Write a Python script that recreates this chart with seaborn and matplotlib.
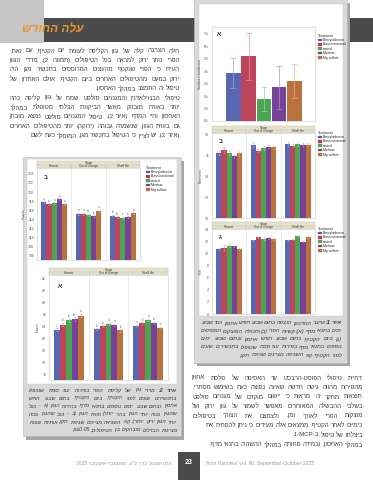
import re
import pandas as pd
import seaborn as sns
import matplotlib.pyplot as plt
from matplotlib.patches import Rectangle, Patch
from matplotlib.colors import to_rgb

sns.set_style('white')
plt.rcParams['font.family'] = ['Liberation Sans', 'DejaVu Sans']

W, H = 373, 480

# ---- data ----
treatments = ['Benzyladenine', 'Brassinosteroid', 'control', 'Manitrac', 'Mg sulfate']
stages = ['Harvest', 'Out of storage', 'Shelf life']
colors = ['#4A5DC0', '#D2304E', '#3DB447', '#7B33A6', '#CF6F28']

# figure 1 (right box)
incidence = [3.85, 5.2, 1.75, 2.7, 3.2]
incidence_err = [1.2, 1.9, 0.95, 1.7, 1.35]

firmness = [[16.2, 16.5, 16.2, 15.9, 16.15],
            [17.0, 16.4, 16.7, 16.8, 16.75],
            [17.05, 16.9, 17.05, 16.95, 17.0]]
firmness_err = [[0.15, 0.3, 0.15, 0.15, 0.2],
                [0.2, 0.15, 0.2, 0.15, 0.15],
                [0.15, 0.15, 0.15, 0.15, 0.15]]

tss = [[10.8, 10.9, 11.3, 11.2, 10.8],
       [12.2, 12.7, 12.5, 12.6, 12.5],
       [12.2, 12.3, 12.9, 12.0, 12.8]]
tss_err = [[0.2, 0.5, 0.25, 0.15, 0.15],
           [0.15, 0.15, 0.2, 0.15, 0.15],
           [0.1, 0.1, 0.15, 0.1, 0.15]]

# figure 2 (left box)
hue_angle = [[117.8, 117.3, 117.55, 118.4, 117.3],
             [115.2, 115.2, 115.0, 114.7, 115.85],
             [114.8, 114.45, 114.3, 114.5, 115.4]]
hue_angle_err = [[0.2, 0.2, 0.2, 0.25, 0.2],
                 [0.2, 0.2, 0.2, 0.2, 0.25],
                 [0.2, 0.2, 0.2, 0.2, 0.2]]
hue_angle_letters = [['a', 'a', 'a', 'a', 'a'],
                     ['a', 'a', 'ab', 'b', 'a'],
                     ['b', 'bc', 'c', 'bc', 'a']]

hue_l = [[83.45, 84.3, 85.0, 85.2, 85.8],
         [83.5, 84.0, 84.4, 84.2, 83.3],
         [84.1, 84.5, 85.05, 84.6, 83.7]]
hue_l_err = [[0.2, 0.3, 0.3, 0.3, 0.3],
             [0.2, 0.2, 0.2, 0.2, 0.2],
             [0.2, 0.2, 0.2, 0.2, 0.2]]
hue_l_letters = [['c', 'bc', 'b', 'ab', 'a'],
                 ['b', 'a', 'a', 'a', 'b'],
                 ['c', 'b', 'a', 'ab', 'c']]

# ---- page text ----
para_top = [
    "חלה הצרבה קלה של גוון הקליפה לעומת יום הקטיף. עם זאת,",
    "הפרי נותר ירוק למראה בכל הטיפולים (תמונה 2). מדדי הגוון",
    "העידו כי הפרי שנקטף מהעצים המרוססים בתכשיר מגן היה",
    "ירוק במעט מהטיפולים האחרים ביום הקטיף, אולם האתרון של",
    "טיפול זה התמצב במהלך האחסון.",
    "טיפולי הבנזילאדנין והמגנזיום סולפט שמרו על גוון קליפה כהה",
    "יותר באורח מובהק מאשר הביקורת הבלתי מטופלת במהלך",
    "האחסון וחיי המדף (איור 2). טיפול המגנזיום סולפט נמצא מובחן",
    "גם בזווית הגוון, שנשמרה גבוהה (ירוקה) יותר מהטיפולים האחרים",
    "(איור 2). יש לציין כי הטיפול בתכשיר מגן, המוסלך כעת לשם",
]
para_bottom = [
    "דחיית טיפולי הפוסט-הרבסט עד האסיפה של פלסת אחוזן",
    "מהפירות מהווה גישה חדשה שאינה נפוצה כעת בשימוש מסחרי.",
    "תוצאות מחקר זה מראות כי יישום מוקדם של מגנזיום סולפט",
    "בשלבי ההבשלה המאוחרים מאפשר לשמור על גוון ירוק ועל",
    "מוצקות הפרי לאורך זמן, ולצמצם את הצורך בטיפולים",
    "כימיים לאחר הקטיף. ממצאים אלה מעידים כי ניתן להפחית את",
    "ביצלתו של טיפול ב-1-MCP.",
    "במהלך האחסון, ובמידה פחותה במהלך ההשהיה בתנאי מדף.",
]
caption_right = [
    "איור 1: שיעור המדבקן הנצפה בתום שבוע חודש אחסון ועוד שבוע",
    "ימים בתנאי מדף (א); קשיות הפרי (ב) ותכולת המוצקים המסיסים",
    "(ג) ביום הקטיף, בתום שבוע חודש אחסון ובתום שבוע ימים",
    "נוספים בתנאי מדף בפירות עצי סמת שטופלו בתכשירים שונים",
    "לפני הקטיף. קווי השגיאה מציינים שגיאת תקן.",
]
caption_left = [
    "איור 2: מדדי גוון של קליפת הפרי בפירות עצי סמת שטופלו",
    "בתכשירים שונים לפני הקטיף, ביום הקטיף, בתום שבוע חודש",
    "אחסון ובתום שבוע ימים נוספים בתנאי מדף. בהירות הגוון (א - ככל",
    "שהגוון גבוה יותר הגוון בהיר יותר) וזווית הגוון (ב - ככל שהגוון גבוה",
    "יותר הגוון ירוק יותר). קווי השגיאה מציינים שגיאת תקן. אותיות שונות",
    "מציינות הבדלים מובהקים בין הטיפולים, p≤0.05.",
]
logo = "עלה החודש"
footer_he = "'עלון הנוטע' כרך ע\"ט, ספטמבר-אוקטובר 2025"
footer_en = "'Alon Hanotea' vol. 80, September-October 2025"
page_no = "23"

LTR = re.compile(r'[A-Za-z0-9][A-Za-z0-9.\-≤]*[A-Za-z0-9]|[A-Za-z0-9]')


def heb(s):
    # matplotlib has no bidi: put the Hebrew in visual order by hand
    r = s[::-1]
    r = LTR.sub(lambda m: m.group(0)[::-1], r)
    return r.translate(str.maketrans('()', ')('))


def light(c, k=0.45):
    r, g, b = to_rgb(c)
    return (r + (1 - r) * k, g + (1 - g) * k, b + (1 - b) * k)


fig = plt.figure(figsize=(W / 100, H / 100), dpi=100)
bg = fig.add_axes([0, 0, 1, 1])
bg.set_xlim(0, W)
bg.set_ylim(H, 0)
bg.axis('off')
rend = fig.canvas.get_renderer()


def box(x, y, w, h, fc, ec='none', lw=0):
    bg.add_patch(Rectangle((x, y), w, h, facecolor=fc, edgecolor=ec, linewidth=lw))


def para(lines, x0, x1, y0, dy, size, ends=(), bold_first=0, **kw):
    # justified right-to-left lines, word by word
    for i, line in enumerate(lines):
        words = line.split()
        arts = []
        for j, w in enumerate(words):
            wt = 'bold' if (i == 0 and j < bold_first) else 'normal'
            arts.append(bg.text(0, y0 + i * dy, heb(w), fontsize=size, ha='right',
                                va='center', fontweight=wt, **kw))
        widths = [a.get_window_extent(rend).width for a in arts]
        space = size * 0.35
        gap = space
        if i not in ends and i != len(lines) - 1 and len(words) > 1:
            gap = max((x1 - x0 - sum(widths)) / (len(words) - 1), space * 0.6)
        x = x1
        for a, wd in zip(arts, widths):
            a.set_x(x)
            x -= wd + gap


def px_axes(x0, y0, x1, y1):
    a = fig.add_axes([x0 / W, 1 - y1 / H, (x1 - x0) / W, (y1 - y0) / H])
    a.set_zorder(2)
    return a


def style(ax, ylim, yticks, ylabel, fmt='{:g}'):
    ax.set_ylim(*ylim)
    ax.set_yticks(yticks)
    ax.set_yticklabels([fmt.format(v) for v in yticks])
    ax.set_xticks([])
    ax.set_xlabel('')
    ax.set_ylabel(ylabel, fontsize=2.6, labelpad=1.5, color='#444444')
    ax.tick_params(axis='y', labelsize=2.5, length=1.2, width=0.3, pad=0.8,
                   colors='#555555')
    for sp in ax.spines.values():
        sp.set_color('#C8C8C8')
        sp.set_linewidth(0.4)


def legend(ax, x, y):
    handles = [Patch(facecolor=c, edgecolor='#666666', linewidth=0.2) for c in colors]
    lg = ax.legend(handles, treatments, title='Treatment', loc='upper left',
                   bbox_to_anchor=(x / W, 1 - y / H), bbox_transform=fig.transFigure,
                   fontsize=2.4, title_fontsize=2.5, frameon=False, handlelength=1.3,
                   handleheight=0.8, labelspacing=0.12, borderpad=0, handletextpad=0.3)
    lg._legend_box.align = 'left'


def header(x0, y0, x1, y1):
    hx = px_axes(x0, y0, x1, y1)
    hx.set_facecolor('#E6E3CD')
    hx.set_xlim(-0.5, 2.5)
    hx.set_ylim(0, 2)
    hx.axhline(1, color='#B9B7A2', lw=0.3)
    for xv in (0.5, 1.5):
        hx.plot([xv, xv], [0, 1], color='#B9B7A2', lw=0.3)
    hx.text(1, 1.5, 'Stage', ha='center', va='center', fontsize=2.3, color='#333333')
    for i, s in enumerate(stages):
        hx.text(i, 0.5, s, ha='center', va='center', fontsize=2.2, color='#333333')
    hx.set_xticks([])
    hx.set_yticks([])
    for sp in hx.spines.values():
        sp.set_color('#B9B7A2')
        sp.set_linewidth(0.3)


def long_df(values, errs):
    rows = []
    for s, vals, es in zip(stages, values, errs):
        for t, v, e in zip(treatments, vals, es):
            rows.append((s, t, v, e))
    return pd.DataFrame(rows, columns=['stage', 'treatment', 'value', 'err'])


def grouped(box_px, values, errs, ylim, yticks, ylabel, tag, letters=None, leg=None):
    x0, y0, x1, y1 = box_px
    header(x0, y0 - 7, x1, y0)
    ax = px_axes(x0, y0, x1, y1)
    df = long_df(values, errs)
    sns.barplot(data=df, x='stage', y='value', hue='treatment', hue_order=treatments,
                palette=colors, errorbar=None, width=0.75, linewidth=0,
                legend=False, ax=ax)
    for cont, t, c in zip(ax.containers, treatments, colors):
        sub = df[df.treatment == t]
        xs = [p.get_x() + p.get_width() / 2 for p in cont.patches]
        ax.errorbar(xs, sub['value'], yerr=sub['err'], fmt='none', ecolor=light(c),
                    elinewidth=0.4, capsize=0.8, capthick=0.4)
        if letters is not None:
            ti = treatments.index(t)
            span = ylim[1] - ylim[0]
            for k, (xv, v, e) in enumerate(zip(xs, sub['value'], sub['err'])):
                ax.text(xv, v + e + span * 0.005, letters[k][ti], ha='center',
                        va='bottom', fontsize=2.0, color='#555555')
    ax.set_xlim(-0.5, 2.5)
    for xv in (0.5, 1.5):
        ax.axvline(xv, color='#DADADA', lw=0.4)
    style(ax, ylim, yticks, ylabel)
    ax.text(0.07, 0.88, tag, transform=ax.transAxes, fontsize=4.5,
            fontweight='bold', color='#333333')
    if leg is not None:
        legend(ax, *leg)
    return ax


# ---- page decoration ----
box(0, 0, 44, 43, '#C6C6C6')
box(44, 18, W - 44, 24, '#4B4B4B')
bg.text(22, 29, heb(logo), fontsize=8.5, color='#E8962E', fontstyle='italic',
        fontweight='bold', ha='left', va='center')

# right figure box
box(197, 3, 153, 363, '#A5A5A5')
box(194, -2, 153, 365, '#D9D9D9', '#B8B8B8', 0.4)
box(199, 4, 144, 312, 'white', '#C9C9C9', 0.3)

# left figure box
box(26, 161, 158, 279, '#A5A5A5')
box(23, 157, 158, 279, '#D9D9D9', '#B8B8B8', 0.4)
box(27, 159, 150, 225, 'white', '#C9C9C9', 0.3)

# footer
box(178, 452, 22, 28, '#4B4B4B')
bg.text(189, 463, page_no, color='white', fontsize=5, fontweight='bold',
        ha='center', va='center')
bg.text(172, 463, heb(footer_he), color='#9A9A9A', fontsize=3.6, ha='right', va='center')
bg.text(205, 463, footer_en, color='#9A9A9A', fontsize=3.6, ha='left', va='center')

# body text
para(para_top, 10, 180, 51, 9.4, 4.4, ends=(4,), color='#3A3A3A')
para(para_bottom, 192, 363, 378, 9.5, 4.4, ends=(5, 6), color='#3A3A3A')
para(caption_right, 201, 342, 323, 8.0, 3.95, bold_first=2, color='#3A3A3A',
     fontstyle='italic')
para(caption_left, 29, 177, 390, 8.0, 3.8, bold_first=2, color='#3A3A3A',
     fontstyle='italic')

# ---- figure 1a ----
axA = px_axes(212, 27, 315, 121)
dfA = pd.DataFrame({'treatment': treatments, 'pct': incidence, 'err': incidence_err})
sns.barplot(data=dfA, x='treatment', y='pct', hue='treatment', hue_order=treatments,
            palette=colors, errorbar=None, width=0.95, linewidth=0, legend=False, ax=axA)
for i, (t, c) in enumerate(zip(treatments, colors)):
    p = axA.containers[i].patches[0]
    axA.errorbar(p.get_x() + p.get_width() / 2, dfA.pct[i], yerr=dfA.err[i], fmt='none',
                 ecolor=light(c), elinewidth=0.5, capsize=2.4, capthick=0.5)
axA.set_xlim(-1.4, 5.35)
style(axA, (0, 7.55), list(range(8)), 'Sunburn incidence', fmt='{:g}%')
axA.text(0.05, 0.9, 'א', transform=axA.transAxes, fontsize=4.5, fontweight='bold',
         color='#333333')
legend(axA, 316, 32)

# ---- figure 1b, 1c ----
grouped((212, 133, 315, 218), firmness, firmness_err, (10, 18.1), [10, 12, 14, 16, 18],
        'Firmness', 'ב', leg=(316, 129))
grouped((212, 229, 315, 314), tss, tss_err, (0, 14.1), list(range(0, 15, 2)),
        'TSS', 'ג', leg=(316, 225))

# ---- figure 2 ----
grouped((37, 168, 140, 260), hue_angle, hue_angle_err, (105, 125.3),
        list(range(106, 125, 2)), 'Hue h', 'ב', letters=hue_angle_letters, leg=(144, 164))
grouped((49, 275, 168, 380), hue_l, hue_l_err, (75, 92.6), list(range(76, 93, 2)),
        'Hue L', 'א', letters=hue_l_letters)

fig.savefig('out.png', dpi=100)
